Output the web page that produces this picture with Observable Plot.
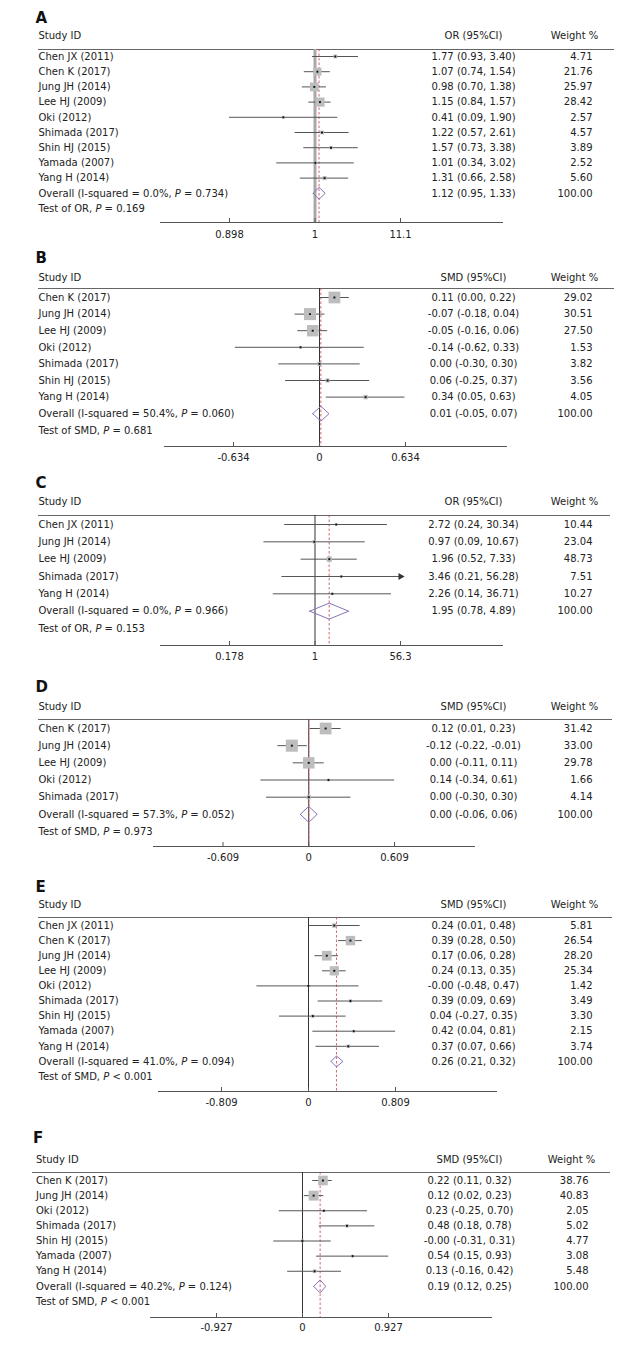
<!DOCTYPE html>
<html><head><meta charset="utf-8">
<script src="https://cdn.jsdelivr.net/npm/d3@7"></script>
<script src="https://cdn.jsdelivr.net/npm/@observablehq/plot@0.6"></script>
<style>
body{margin:0;background:#fff;}
#chart svg{display:block;}
</style>
</head><body><div id="chart"></div>
<script>
// ---------- DATA ----------
const studiesA = ["Chen JX (2011)","Chen K (2017)","Jung JH (2014)","Lee HJ (2009)","Oki (2012)","Shimada (2017)","Shin HJ (2015)","Yamada (2007)","Yang H (2014)"];
const estA = [1.77,1.07,0.98,1.15,0.41,1.22,1.57,1.01,1.31];
const loA  = [0.93,0.74,0.70,0.84,0.09,0.57,0.73,0.34,0.66];
const hiA  = [3.40,1.54,1.38,1.57,1.90,2.61,3.38,3.02,2.58];
const weightA = [4.71,21.76,25.97,28.42,2.57,4.57,3.89,2.52,5.60];
const overallA = [1.12,0.95,1.33];
const hetA = "Overall (I-squared = 0.0%, P = 0.734)";
const testA = "Test of OR, P = 0.169";
const tickMaxA = 11.1;
const tickLabelsA = ["0.898","1","11.1"];

const studiesB = ["Chen K (2017)","Jung JH (2014)","Lee HJ (2009)","Oki (2012)","Shimada (2017)","Shin HJ (2015)","Yang H (2014)"];
const estB = [0.11,-0.07,-0.05,-0.14,0.00,0.06,0.34];
const loB  = [0.00,-0.18,-0.16,-0.62,-0.30,-0.25,0.05];
const hiB  = [0.22,0.04,0.06,0.33,0.30,0.37,0.63];
const weightB = [29.02,30.51,27.50,1.53,3.82,3.56,4.05];
const overallB = [0.01,-0.05,0.07];
const hetB = "Overall (I-squared = 50.4%, P = 0.060)";
const testB = "Test of SMD, P = 0.681";
const tickMaxB = 0.634;
const tickLabelsB = ["-0.634","0","0.634"];

const studiesC = ["Chen JX (2011)","Jung JH (2014)","Lee HJ (2009)","Shimada (2017)","Yang H (2014)"];
const estC = [2.72,0.97,1.96,3.46,2.26];
const loC  = [0.24,0.09,0.52,0.21,0.14];
const hiC  = [30.34,10.67,7.33,56.28,36.71];
const weightC = [10.44,23.04,48.73,7.51,10.27];
const overallC = [1.95,0.78,4.89];
const hetC = "Overall (I-squared = 0.0%, P = 0.966)";
const testC = "Test of OR, P = 0.153";
const tickMaxC = 56.3;
const tickLabelsC = ["0.178","1","56.3"];

const studiesD = ["Chen K (2017)","Jung JH (2014)","Lee HJ (2009)","Oki (2012)","Shimada (2017)"];
const estD = [0.12,-0.12,0.00,0.14,0.00];
const loD  = [0.01,-0.22,-0.11,-0.34,-0.30];
const hiD  = [0.23,-0.01,0.11,0.61,0.30];
const weightD = [31.42,33.00,29.78,1.66,4.14];
const overallD = [0.00,-0.06,0.06];
const hetD = "Overall (I-squared = 57.3%, P = 0.052)";
const testD = "Test of SMD, P = 0.973";
const tickMaxD = 0.609;
const tickLabelsD = ["-0.609","0","0.609"];

const studiesE = ["Chen JX (2011)","Chen K (2017)","Jung JH (2014)","Lee HJ (2009)","Oki (2012)","Shimada (2017)","Shin HJ (2015)","Yamada (2007)","Yang H (2014)"];
const estE = [0.24,0.39,0.17,0.24,-0.001,0.39,0.04,0.42,0.37];
const loE  = [0.01,0.28,0.06,0.13,-0.48,0.09,-0.27,0.04,0.07];
const hiE  = [0.48,0.50,0.28,0.35,0.47,0.69,0.35,0.81,0.66];
const weightE = [5.81,26.54,28.20,25.34,1.42,3.49,3.30,2.15,3.74];
const overallE = [0.26,0.21,0.32];
const hetE = "Overall (I-squared = 41.0%, P = 0.094)";
const testE = "Test of SMD, P < 0.001";
const tickMaxE = 0.809;
const tickLabelsE = ["-0.809","0","0.809"];

const studiesF = ["Chen K (2017)","Jung JH (2014)","Oki (2012)","Shimada (2017)","Shin HJ (2015)","Yamada (2007)","Yang H (2014)"];
const estF = [0.22,0.12,0.23,0.48,-0.001,0.54,0.13];
const loF  = [0.11,0.02,-0.25,0.18,-0.31,0.15,-0.16];
const hiF  = [0.32,0.23,0.70,0.78,0.31,0.93,0.42];
const weightF = [38.76,40.83,2.05,5.02,4.77,3.08,5.48];
const overallF = [0.19,0.12,0.25];
const hetF = "Overall (I-squared = 40.2%, P = 0.124)";
const testF = "Test of SMD, P < 0.001";
const tickMaxF = 0.927;
const tickLabelsF = ["-0.927","0","0.927"];

const panels = [
  {letter:"A", measure:"OR (95%CI)", log:true, studies:studiesA, est:estA, lo:loA, hi:hiA, weight:weightA, overall:overallA, het:hetA, test:testA, tickMax:tickMaxA, tickLabels:tickLabelsA},
  {letter:"B", measure:"SMD (95%CI)", log:false, studies:studiesB, est:estB, lo:loB, hi:hiB, weight:weightB, overall:overallB, het:hetB, test:testB, tickMax:tickMaxB, tickLabels:tickLabelsB},
  {letter:"C", measure:"OR (95%CI)", log:true, studies:studiesC, est:estC, lo:loC, hi:hiC, weight:weightC, overall:overallC, het:hetC, test:testC, tickMax:tickMaxC, tickLabels:tickLabelsC},
  {letter:"D", measure:"SMD (95%CI)", log:false, studies:studiesD, est:estD, lo:loD, hi:hiD, weight:weightD, overall:overallD, het:hetD, test:testD, tickMax:tickMaxD, tickLabels:tickLabelsD},
  {letter:"E", measure:"SMD (95%CI)", log:false, studies:studiesE, est:estE, lo:loE, hi:hiE, weight:weightE, overall:overallE, het:hetE, test:testE, tickMax:tickMaxE, tickLabels:tickLabelsE},
  {letter:"F", measure:"SMD (95%CI)", log:false, studies:studiesF, est:estF, lo:loF, hi:hiF, weight:weightF, overall:overallF, het:hetF, test:testF, tickMax:tickMaxF, tickLabels:tickLabelsF}
];

// ---------- LAYOUT (page pixels) ----------
const layouts = [
  {top:0,    h:245, letter:18,   sid:35,   hline:49,   row0:56,   step:15.2,  axis:222,  tlab:234,  xr:[229,400],   axisX:[160,503], hlineX:[38,614], cStudy:38,   cVal:473, cWH:574, cW:592, rMax:5.2, dh:6,   nullW:3, nullC:"#a8a8a8", arrows:[]},
  {top:245,  h:225, letter:258,  sid:277,  hline:288,  row0:297,  step:16.6,  axis:446,  tlab:457,  xr:[233,405],   axisX:[164,507], hlineX:[38,614], cStudy:38,   cVal:473, cWH:574, cW:592, rMax:6.8, dh:7.5, nullW:1, nullC:"#333", arrows:[]},
  {top:470,  h:203, letter:483,  sid:501,  hline:515,  row0:524,  step:17.33, axis:645,  tlab:656,  xr:[229,400],   axisX:[160,503], hlineX:[38,610], cStudy:38,   cVal:473, cWH:574, cW:592, rMax:3.0, dh:8,   nullW:1, nullC:"#333", arrows:["Shimada (2017)"]},
  {top:673,  h:200, letter:687,  sid:706,  hline:719,  row0:728,  step:17.17, axis:846,  tlab:857,  xr:[222.5,394], axisX:[153,475], hlineX:[38,612], cStudy:38,   cVal:473, cWH:574, cW:592, rMax:6.8, dh:8,   nullW:1, nullC:"#333", arrows:[]},
  {top:873,  h:245, letter:887,  sid:904,  hline:917,  row0:925,  step:15.1,  axis:1091, tlab:1102, xr:[221,395],   axisX:[158,497], hlineX:[38,612], cStudy:38,   cVal:473, cWH:574, cW:592, rMax:5.5, dh:5.5, nullW:1, nullC:"#333", arrows:[]},
  {top:1118, h:231, letter:1138, sid:1159, hline:1172, row0:1180, step:15.125,axis:1317, tlab:1327, xr:[216,388],   axisX:[150,492], hlineX:[32,610], cStudy:35.5, cVal:469, cWH:571, cW:588, rMax:5.6, dh:6.5, nullW:1, nullC:"#333", arrows:[]}
];

const FONT = "DejaVu Sans";
const fmt = v => v.toFixed(2);

function forest(P, L) {
  const n = P.studies.length;
  const rowPx = i => L.row0 + i * L.step - L.top;
  const toRow = px => (px - L.row0) / L.step;
  const rows = P.studies.map((s, i) => ({study: s, est: P.est[i], lo: P.lo[i], hi: P.hi[i], w: P.weight[i], row: i}));
  const ovRow = n, testRow = n + 1;
  const hRow = toRow(L.hline), axRow = toRow(L.axis), sidRow = toRow(L.sid),
        letRow = toRow(L.letter), tlabRow = toRow(L.tlab), tickTop = toRow(L.axis - 4);
  const nullV = P.log ? 1 : 0;
  const tickVals = P.log ? [1 / P.tickMax, 1, P.tickMax] : [-P.tickMax, 0, P.tickMax];
  const xs = (P.log ? d3.scaleLog() : d3.scaleLinear()).domain([tickVals[0], tickVals[2]]).range(L.xr);
  const inv = px => xs.invert(px);
  const clipped = rows.filter(d => L.arrows.includes(d.study));
  const normal = rows.filter(d => !L.arrows.includes(d.study));
  const dhr = L.dh / L.step;
  const [oe, ol, oh] = P.overall;
  const diamond = [
    {x: ol, y: ovRow}, {x: oe, y: ovRow - dhr}, {x: oh, y: ovRow}, {x: oe, y: ovRow + dhr}, {x: ol, y: ovRow}
  ];
  const txt = {fontSize: 10, fill: "#222", frameAnchor: "left"};
  const maxW = d3.max(P.weight);

  const plot = Plot.plot({
    width: 637, height: L.h,
    marginLeft: 0, marginRight: 0, marginTop: 0, marginBottom: 0,
    style: {fontFamily: FONT, fontSize: "10px", background: "#fff", overflow: "visible"},
    x: {type: P.log ? "log" : "linear", domain: [tickVals[0], tickVals[2]], range: L.xr, axis: null},
    y: {type: "linear", domain: [0, n + 1], range: [rowPx(0), rowPx(n + 1)], axis: null},
    r: {type: "sqrt", domain: [0, maxW], range: [0, L.rMax]},
    marks: [
      // panel letter & header
      Plot.text([P.letter], {...txt, y: () => letRow, text: d => d, dx: L.cStudy - 3, textAnchor: "start", fontWeight: "bold", fontSize: 15, fill: "#111"}),
      Plot.text(["Study ID"], {...txt, y: () => sidRow, text: d => d, dx: L.cStudy, textAnchor: "start"}),
      Plot.text([P.measure], {...txt, y: () => sidRow, text: d => d, dx: L.cVal, textAnchor: "middle"}),
      Plot.text(["Weight %"], {...txt, y: () => sidRow, text: d => d, dx: L.cWH, textAnchor: "middle"}),
      Plot.ruleY([hRow], {x1: () => inv(L.hlineX[0]), x2: () => inv(L.hlineX[1]), stroke: "#666", strokeWidth: 1}),
      // null line and overall line
      Plot.ruleX([nullV], {y1: () => hRow, y2: () => axRow, stroke: L.nullC, strokeWidth: L.nullW}),
      Plot.ruleX([oe], {y1: () => hRow, y2: () => axRow, stroke: "#c8414b", strokeWidth: 0.8, strokeDasharray: "2.5,2"}),
      // confidence intervals
      Plot.ruleY(normal, {y: "row", x1: "lo", x2: "hi", stroke: "#555", strokeWidth: 1}),
      Plot.ruleY(clipped, {y: "row", x1: "lo", x2: () => P.tickMax, stroke: "#555", strokeWidth: 1}),
      Plot.dot(clipped, {x: () => P.tickMax, y: "row", symbol: "triangle", rotate: 90, r: 2.6, fill: "#333", stroke: "none"}),
      // weight boxes and point estimates
      Plot.dot(rows, {x: "est", y: "row", r: "w", symbol: "square", fill: "#bdbdbd", stroke: "none"}),
      Plot.dot(rows, {x: "est", y: "row", r: 1.1, symbol: "square", fill: "#111", stroke: "none"}),
      // overall diamond
      Plot.line(diamond, {x: "x", y: "y", stroke: "#8a72b8", strokeWidth: 1, fill: "none"}),
      // study rows text
      Plot.text(rows, {...txt, y: "row", text: "study", dx: L.cStudy, textAnchor: "start"}),
      Plot.text(rows, {...txt, y: "row", text: d => `${fmt(d.est)} (${fmt(d.lo)}, ${fmt(d.hi)})`, dx: L.cVal, textAnchor: "middle"}),
      Plot.text(rows, {...txt, y: "row", text: d => fmt(d.w), dx: L.cW, textAnchor: "end"}),
      // overall and test rows
      Plot.text([P.het], {...txt, y: () => ovRow, text: d => d, dx: L.cStudy, textAnchor: "start"}),
      Plot.text([P.overall], {...txt, y: () => ovRow, text: d => `${fmt(d[0])} (${fmt(d[1])}, ${fmt(d[2])})`, dx: L.cVal, textAnchor: "middle"}),
      Plot.text([100], {...txt, y: () => ovRow, text: d => fmt(d), dx: L.cW, textAnchor: "end"}),
      Plot.text([P.test], {...txt, y: () => testRow, text: d => d, dx: L.cStudy, textAnchor: "start"}),
      // x axis
      Plot.ruleY([axRow], {x1: () => inv(L.axisX[0]), x2: () => inv(L.axisX[1]), stroke: "#555", strokeWidth: 1}),
      Plot.ruleX(tickVals, {y1: () => tickTop, y2: () => axRow, stroke: "#555", strokeWidth: 1}),
      Plot.text(tickVals, {x: d => d, y: () => tlabRow, text: (d, i) => P.tickLabels[i], fontSize: 10, fill: "#222"})
    ]
  });

  // italicise the "P" in statistics text
  plot.querySelectorAll("text").forEach(t => {
    const s = t.textContent;
    const m = s.match(/^(.*?)\bP( [=<] .*)$/);
    if (!m || t.children.length > 1) return;
    while (t.firstChild) t.removeChild(t.firstChild);
    const ns = "http://www.w3.org/2000/svg";
    const a = document.createElementNS(ns, "tspan"); a.textContent = m[1];
    const b = document.createElementNS(ns, "tspan"); b.textContent = "P"; b.setAttribute("font-style", "italic");
    const c = document.createElementNS(ns, "tspan"); c.textContent = m[2];
    t.append(a, b, c);
  });
  return plot;
}

const root = document.getElementById("chart");
panels.forEach((P, i) => root.appendChild(forest(P, layouts[i])));
</script>
</body></html>
